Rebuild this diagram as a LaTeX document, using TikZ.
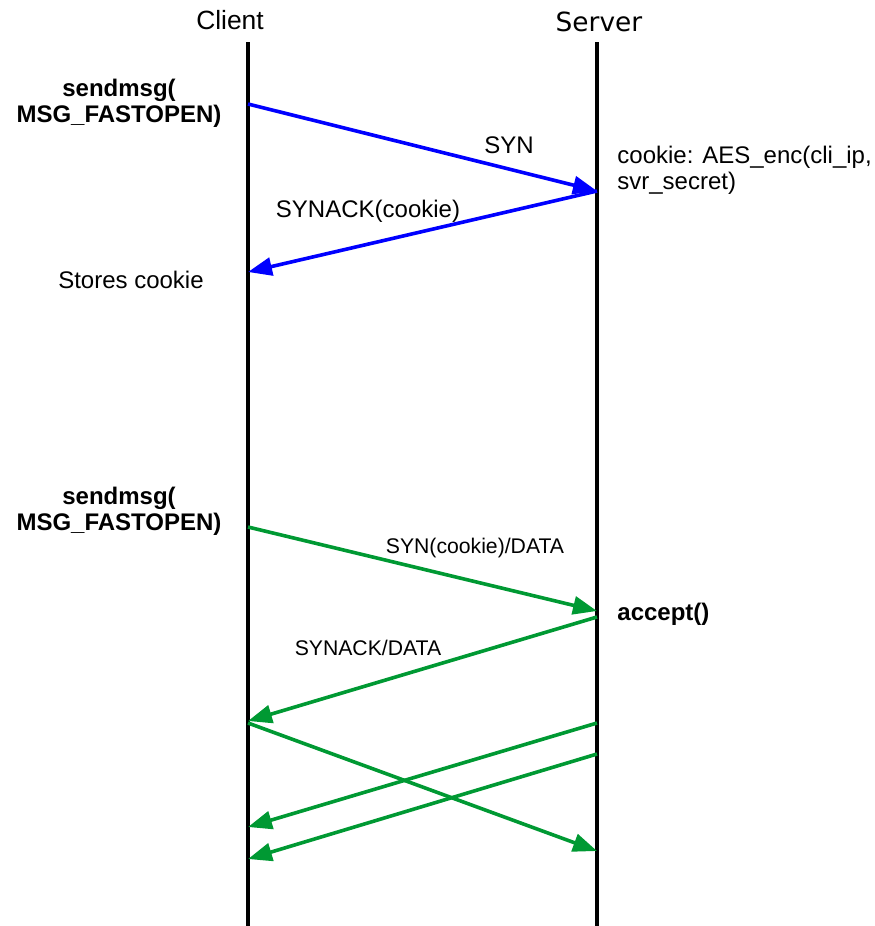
\documentclass[tikz,border=0pt]{standalone}
\usepackage{fontspec}
\setmainfont{Liberation Sans}
\newfontfamily\srvfont{DejaVu Sans}
\usetikzlibrary{arrows.meta}

\definecolor{synblue}{RGB}{0,0,255}
\definecolor{tfogreen}{RGB}{0,153,51}

\begin{document}
\begin{tikzpicture}[x=0.5pt, y=-0.5pt,
    every node/.style={inner sep=0pt, font=\fontsize{12}{13}\selectfont},
    lifeline/.style={line width=1.6pt, black},
    msg/.style={line width=1.8pt, -{Triangle[length=12pt, width=9pt]}},
    small/.style={font=\fontsize{10.6}{12}\selectfont},
    call/.style={align=center, font=\fontsize{12}{13}\selectfont\bfseries}]
  \useasboundingbox (0,0) rectangle (874,926);

  % Nodos
  \node (client) at (230,20) {\fontsize{13.2}{15}\selectfont Client};
  \node (server) at (599,22) {\fontsize{13.2}{15}\selectfont\srvfont Server};
  \coordinate (ctop) at (248,42);
  \coordinate (cbot) at (248,926);
  \coordinate (stop) at (597,42);
  \coordinate (sbot) at (597,926);

  \coordinate (c1) at (248,104);
  \coordinate (s1) at (597,191);
  \coordinate (c2) at (248,272);
  \coordinate (c3) at (248,527);
  \coordinate (s3) at (597,611);
  \coordinate (s4) at (597,617);
  \coordinate (c4) at (248,721);
  \coordinate (c5) at (248,723);
  \coordinate (s5) at (597,851);
  \coordinate (s6) at (597,723);
  \coordinate (c6) at (248,827);
  \coordinate (s7) at (597,754);
  \coordinate (c7) at (248,859);

  \node[call] (send1) at (119,103) {sendmsg(\\MSG\_FASTOPEN)};
  \node (syn) at (509,145) {SYN};
  \node[align=left, anchor=west] (cookie) at (617,170) {cookie: AES\_enc(cli\_ip,\\svr\_secret)};
  \node (synack) at (368,211) {SYNACK(cookie)};
  \node (stores) at (131,280) {Stores cookie};
  \node[call] (send2) at (119,511) {sendmsg(\\MSG\_FASTOPEN)};
  \node[small] (syndata) at (475,548) {SYN(cookie)/DATA};
  \node[call, anchor=west] (accept) at (617,614) {accept()};
  \node[small] (ackdata) at (368,648) {SYNACK/DATA};

  % Aristas
  \draw[lifeline] (ctop) -- (cbot);
  \draw[lifeline] (stop) -- (sbot);
  \draw[msg, synblue] (c1) -- (s1);
  \draw[msg, synblue] (s1) -- (c2);
  \draw[msg, tfogreen] (c3) -- (s3);
  \draw[msg, tfogreen] (s4) -- (c4);
  \draw[msg, tfogreen] (c5) -- (s5);
  \draw[msg, tfogreen] (s6) -- (c6);
  \draw[msg, tfogreen] (s7) -- (c7);
\end{tikzpicture}
\end{document}
